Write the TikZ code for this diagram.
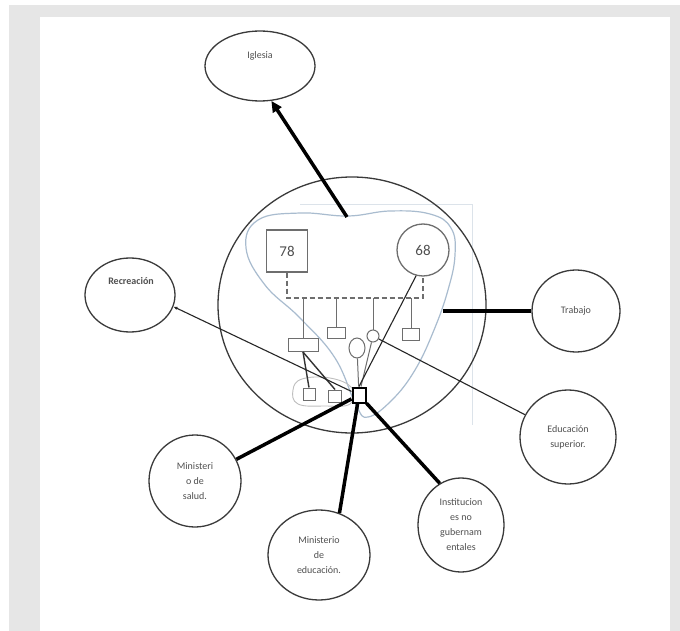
\documentclass[tikz,border=0pt]{standalone}
\usepackage{fontspec}
\setmainfont{Carlito}
\usetikzlibrary{shapes.geometric,arrows.meta}
\definecolor{pagegray}{HTML}{E6E6E6}
\definecolor{ecol}{HTML}{3A3A3A}
\definecolor{txt}{HTML}{505050}
\definecolor{bluec}{HTML}{A9BCCF}
\definecolor{innerc}{HTML}{6E6E6E}
\definecolor{faint}{HTML}{DCE3EA}
\begin{document}
\begin{tikzpicture}[x=1pt,y=-1pt,
  ell/.style={draw=ecol,line width=1.3pt,ellipse,inner sep=0pt,align=center,text=txt,font=\fontsize{10}{15}\selectfont},
  thickline/.style={line width=3.5pt,black},
  thinline/.style={line width=1.1pt,black!85},
  ibox/.style={draw=innerc,line width=1pt,rectangle,inner sep=0pt,fill=white},
  icirc/.style={draw=innerc,line width=1pt,circle,inner sep=0pt,fill=white},
  iline/.style={innerc,line width=1pt},
  dline/.style={black!80,line width=1.4pt},
  bignum/.style={draw=innerc,line width=1.3pt,inner sep=0pt,text=txt,font=\fontsize{15}{15}\selectfont}
]
\useasboundingbox (0,0) rectangle (680,631);
\fill[white] (0,0) rectangle (680,631);
\fill[pagegray] (9,5) rectangle (680,631);
\fill[white] (40,17) rectangle (670,631);

% faint frame lines
\draw[faint,line width=1pt] (300,205) -- (472,205) -- (472,425);

% big circle
\node[ell,minimum width=268pt,minimum height=256pt] (big) at (352,305) {};

% blue boundary
\draw[bluec,line width=1.2pt] plot[smooth cycle,tension=0.7] coordinates
 {(246,248) (258,220) (300,213) (348,216) (390,211) (430,214) (451,228) (455,255) (448,290) (434,330) (415,370) (392,400) (368,417) (356,405) (335,358) (300,318) (265,285)};
% light loop round the lower boxes
\draw[innerc!45,line width=0.9pt] plot[smooth cycle,tension=0.7] coordinates
 {(302,379) (293,390) (298,404) (325,406) (350,404) (352,388) (330,378)};

% family
\node[bignum,minimum width=41pt,minimum height=42pt] (n78) at (287,251) {78};
\node[bignum,circle,minimum size=52pt] (n68) at (423,250) {68};
\coordinate (dl) at (287,298);
\coordinate (dr) at (423,298);
\draw[iline,line width=1.1pt,dash pattern=on 5pt off 3pt] (n78.south) -- (dl) -- (dr) -- (n68.south);

\node[ibox,minimum width=30pt,minimum height=13pt] (c1) at (303,345) {};
\node[ibox,minimum width=18pt,minimum height=11pt] (c2) at (336,333) {};
\node[icirc,minimum size=12pt] (c3) at (373,336) {};
\node[ibox,minimum width=17pt,minimum height=12pt] (c4) at (411,334) {};
\node[draw=innerc,line width=1pt,ellipse,minimum width=16pt,minimum height=20pt,inner sep=0pt] (c5) at (357,348) {};
\draw[iline] (c1.north |- dl) -- (c1.north);
\draw[iline] (c2.north |- dl) -- (c2.north);
\draw[iline] (c3.north |- dl) -- (c3.north);
\draw[iline] (c4.north |- dl) -- (c4.north);

\node[ibox,minimum width=12pt,minimum height=12pt] (b1) at (309,394) {};
\node[ibox,minimum width=13pt,minimum height=12pt] (b2) at (335,396) {};
\node[draw=black,line width=2pt,minimum width=13pt,minimum height=15pt,inner sep=0pt,fill=white] (hub) at (359,395) {};

\draw[dline] (c1.south) -- (b1.north);
\draw[dline] (c1.south) -- (b2.north);
\draw[iline] (c3) -- (hub);
\draw[iline] (c5) -- (hub);
\draw[thinline] (n68.255) -- (hub.north);

% outer systems
\node[ell,minimum width=110pt,minimum height=70pt] (igl) at (260,66) {Iglesia\\[6pt]};
\node[ell,minimum width=90pt,minimum height=74pt] (recre) at (130,295) {};
\node[text=txt,font=\fontsize{10}{12}\selectfont\bfseries] (recretxt) at (131,281) {Recreación};
\node[ell,minimum width=88pt,minimum height=82pt] (trab) at (576,311) {Trabajo};
\node[ell,minimum width=96pt,minimum height=94pt] (edu) at (568,437) {Educación\\superior.};
\node[ell,minimum width=92pt,minimum height=92pt] (salud) at (195,481) {Ministeri\\o de\\salud.};
\node[ell,minimum width=102pt,minimum height=90pt] (mined) at (319,555) {Ministerio\\de\\educación.};
\node[ell,minimum width=86pt,minimum height=94pt] (inst) at (461,525) {Institucion\\es no\\gubernam\\entales};

% connectors
\coordinate (topc) at (347,217);
\coordinate (trc) at (443,311);
\draw[thickline,-{Triangle[length=11pt,width=10pt]}] (topc) -- (igl.-72);
\draw[thickline] (trc) -- (trab);
\draw[thickline] (hub) -- (salud);
\draw[thickline] (hub) -- (mined.64);
\draw[thickline] (hub) -- (inst.117);
\draw[thinline,-{Latex[length=4pt,width=3.5pt]}] (hub) -- (recre.-15);
\draw[thinline] (c3) -- (edu);
\end{tikzpicture}
\end{document}
